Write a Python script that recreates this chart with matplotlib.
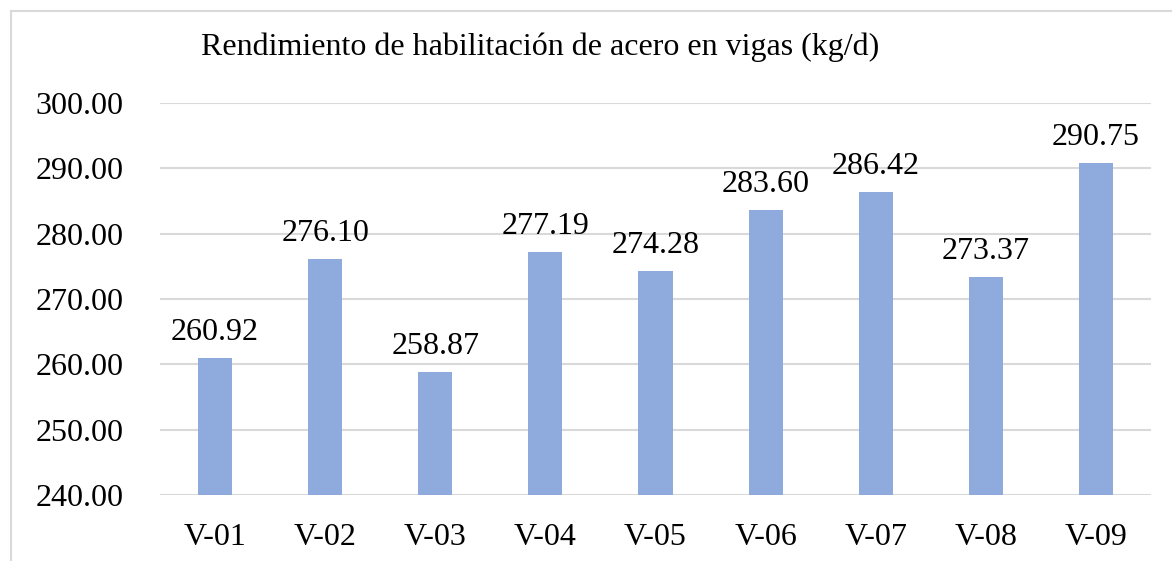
import matplotlib.pyplot as plt
from matplotlib.lines import Line2D

# Data
vigas = ["V-01", "V-02", "V-03", "V-04", "V-05", "V-06", "V-07", "V-08", "V-09"]
rendimiento = [260.92, 276.10, 258.87, 277.19, 274.28, 283.60, 286.42, 273.37, 290.75]
yticks = [240, 250, 260, 270, 280, 290, 300]

plt.rcParams['font.family'] = ['Liberation Serif', 'DejaVu Serif']

fig = plt.figure(figsize=(11.72, 5.61), dpi=100)
ax = fig.add_axes([160/1172, 1 - 495/561, (1151 - 160)/1172, (495 - 103)/561])

x = range(len(vigas))
ax.bar(x, rendimiento, width=0.31, color="#8FAADC", zorder=3)

for i, v in enumerate(rendimiento):
    ax.annotate(f"{v:.2f}", (i, v), xytext=(0, 13), textcoords="offset points",
                ha="center", va="baseline", fontsize=23)

ax.set_ylim(240, 300)
ax.set_xlim(-0.5, len(vigas) - 0.5)
ax.set_yticks(yticks)
ax.set_yticklabels([f"{t:.2f}" for t in yticks], fontsize=23)
ax.set_xticks(list(x))
ax.set_xticklabels(vigas, fontsize=23)
ax.tick_params(axis="both", length=0)
ax.tick_params(axis="y", pad=26)
ax.tick_params(axis="x", pad=20)

ax.grid(axis="y", color="#D9D9D9", linewidth=1.5, zorder=0)
for s in ax.spines.values():
    s.set_visible(False)

fig.text(540/1172, 1 - 47/561, "Rendimiento de habilitación de acero en vigas (kg/d)",
         ha="center", va="center", fontsize=23)

# outer chart border (left and top visible)
fig.add_artist(Line2D([11/1172, 11/1172], [0, 1 - 11/561], color="#D9D9D9", lw=1.5))
fig.add_artist(Line2D([11/1172, 1], [1 - 11/561, 1 - 11/561], color="#D9D9D9", lw=1.5))

fig.savefig("out.png", dpi=100)
